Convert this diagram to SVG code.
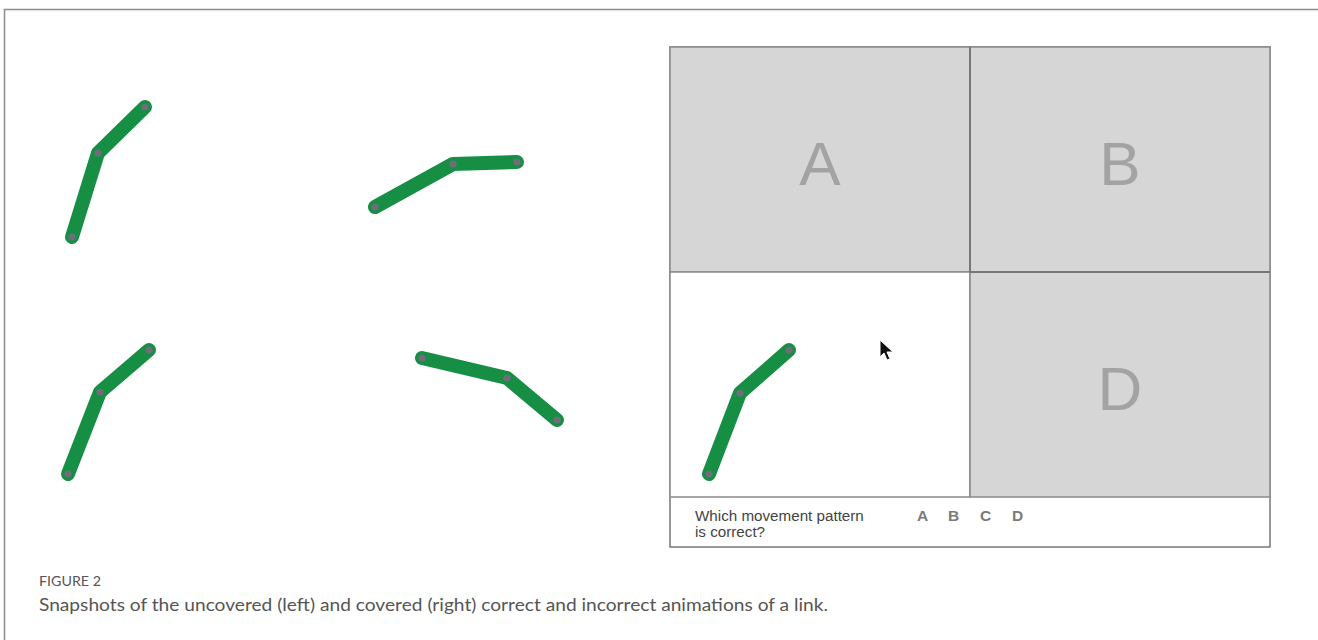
<svg xmlns="http://www.w3.org/2000/svg" width="1318" height="640" viewBox="0 0 1318 640">
<style>
.link{fill:none;stroke:#168f45;stroke-width:14;stroke-linecap:round;stroke-linejoin:round}
.joint{fill:#6e6e78}
.cell{stroke:#8a8a8a;stroke-width:1.5}
.gray{fill:#d6d6d6}
.big{font-family:"Liberation Sans",Arial,sans-serif;font-size:62px;fill:#a3a3a3;text-anchor:middle}
.q{font-family:"Liberation Sans",Arial,sans-serif;font-size:15.2px;fill:#444}
.opt{font-family:"Liberation Sans",Arial,sans-serif;font-size:15.5px;font-weight:bold;fill:#7a7a7a}
.cap{font-family:Lato,"Open Sans",sans-serif;fill:#555}
</style>
<rect width="1318" height="640" fill="#fff"/>
<path d="M4.5 640 V9.5 H1318" fill="none" stroke="#8c8c8c" stroke-width="1.5"/>
<g id="link1"><polyline class="link" points="72,237 98,153 145,107"/><circle class="joint" cx="72" cy="237" r="3.6"/><circle class="joint" cx="98" cy="153" r="3.6"/><circle class="joint" cx="145" cy="107" r="3.6"/></g>
<g id="link2"><polyline class="link" points="375,207 453,164 517,162"/><circle class="joint" cx="375" cy="207" r="3.6"/><circle class="joint" cx="453" cy="164" r="3.6"/><circle class="joint" cx="517" cy="162" r="3.6"/></g>
<g id="link3"><polyline class="link" points="68,474 100,392 149,350"/><circle class="joint" cx="68" cy="474" r="3.6"/><circle class="joint" cx="100" cy="392" r="3.6"/><circle class="joint" cx="149" cy="350" r="3.6"/></g>
<g id="link4"><polyline class="link" points="422,358 507,378 557,420"/><circle class="joint" cx="422" cy="358" r="3.6"/><circle class="joint" cx="507" cy="378" r="3.6"/><circle class="joint" cx="557" cy="420" r="3.6"/></g>
<g id="panel">
<rect x="670" y="47" width="600" height="500" fill="#fff" stroke="#777" stroke-width="1.5"/>
<rect id="cellA" class="cell gray" x="670" y="47" width="300" height="225"/>
<rect id="cellB" class="cell gray" x="970" y="47" width="300" height="225"/>
<rect id="cellC" class="cell" fill="#fff" x="670" y="272" width="300" height="225"/>
<rect id="cellD" class="cell gray" x="970" y="272" width="300" height="225"/>
<line x1="970" y1="47" x2="970" y2="272" stroke="#777" stroke-width="2"/>
<line x1="970" y1="272" x2="1270" y2="272" stroke="#777" stroke-width="2"/>
<text class="big" x="820" y="185">A</text>
<text class="big" x="1120" y="185">B</text>
<text class="big" x="1120" y="410">D</text>
<g id="link5"><polyline class="link" points="709,474 740,393 789,350"/><circle class="joint" cx="709" cy="474" r="3.6"/><circle class="joint" cx="740" cy="393" r="3.6"/><circle class="joint" cx="789" cy="350" r="3.6"/></g>
<path id="cursor" d="M880 340 L880 357 L884 353 L887 360 L890 359 L887 352 L893 352 Z" fill="#111" stroke="#fff" stroke-width="1"/>
<text class="q" x="695" y="521">Which movement pattern</text>
<text class="q" x="695" y="537">is correct?</text>
<text class="opt" x="917" y="521">A</text>
<text class="opt" x="948" y="521">B</text>
<text class="opt" x="980" y="521">C</text>
<text class="opt" x="1012" y="521">D</text>
</g>
<text class="cap" x="39" y="586" font-size="13.5" textLength="62" lengthAdjust="spacingAndGlyphs">FIGURE 2</text>
<text class="cap" x="39" y="611" font-size="17.5" textLength="789" lengthAdjust="spacingAndGlyphs">Snapshots of the uncovered (left) and covered (right) correct and incorrect animations of a link.</text>
</svg>
